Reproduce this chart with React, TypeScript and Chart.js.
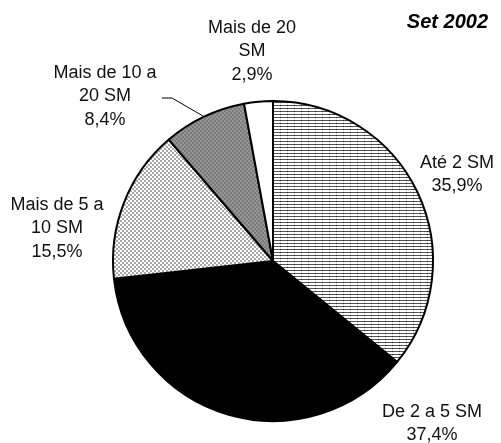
import React, { useEffect, useRef } from "react";
import { Chart, registerables } from "chart.js";

Chart.register(...registerables);

const categories = ["Até 2 SM", "De 2 a 5 SM", "Mais de 5 a 10 SM", "Mais de 10 a 20 SM", "Mais de 20 SM"];
const shares = [35.9, 37.4, 15.5, 8.4, 2.9];
const labelLines = [["Até 2 SM"], ["De 2 a 5 SM"], ["Mais de 5 a", "10 SM"], ["Mais de 10 a", "20 SM"], ["Mais de 20", "SM"]];
const titleText = "Set 2002";

// label placement (first-line centre, relative to pie centre)
const labelOffsets = [
  [184, -98],
  [159, 151],
  [-216, -56],
  [-168, -188],
  [-21, -233],
];
const leaderIndex = 3;
const leaderPoints = [
  [-101, -163],
  [-111, -163],
];

function makePattern(kind: string): CanvasPattern | string {
  const c = document.createElement("canvas");
  const ctx = c.getContext("2d")!;
  if (kind === "hlines") {
    c.width = 7;
    c.height = 3;
    ctx.fillStyle = "#ffffff";
    ctx.fillRect(0, 0, 7, 3);
    ctx.fillStyle = "#555555";
    ctx.fillRect(0, 0, 7, 1);
    ctx.fillStyle = "#222222";
    ctx.fillRect(0, 0, 1, 1);
    ctx.fillStyle = "#e6e6e6";
    ctx.fillRect(0, 1, 1, 2);
  } else if (kind === "dots") {
    c.width = 4;
    c.height = 4;
    ctx.fillStyle = "#ffffff";
    ctx.fillRect(0, 0, 4, 4);
    ctx.fillStyle = "#a8a8a8";
    ctx.fillRect(0, 0, 2, 2);
    ctx.fillRect(2, 2, 2, 2);
  } else if (kind === "gray") {
    c.width = 4;
    c.height = 4;
    ctx.fillStyle = "#7c7c7c";
    ctx.fillRect(0, 0, 4, 4);
    ctx.fillStyle = "#969696";
    ctx.fillRect(0, 0, 2, 2);
    ctx.fillRect(2, 2, 2, 2);
  } else {
    return kind;
  }
  return ctx.createPattern(c, "repeat") as CanvasPattern;
}

const fmt = (v: number) => v.toFixed(1).replace(".", ",") + "%";

const labelPlugin = {
  id: "sliceLabels",
  afterDraw(chart: any) {
    const ctx = chart.ctx as CanvasRenderingContext2D;
    const meta = chart.getDatasetMeta(0);
    const arc0 = meta.data[0];
    const cx = arc0.x;
    const cy = arc0.y;
    ctx.save();
    ctx.fillStyle = "#111";
    ctx.textAlign = "center";
    ctx.textBaseline = "middle";
    ctx.font = '18px "Liberation Sans", Arial, sans-serif';
    const lh = 23.5;
    shares.forEach((v, i) => {
      const lines = [...labelLines[i], fmt(v)];
      const [dx, dy] = labelOffsets[i];
      lines.forEach((t, k) => {
        ctx.fillText(t, cx + dx, cy + dy + k * lh);
      });
    });
    // leader line
    const arc = meta.data[leaderIndex];
    const mid = (arc.startAngle + arc.endAngle) / 2;
    ctx.strokeStyle = "#000";
    ctx.lineWidth = 1;
    ctx.beginPath();
    ctx.moveTo(cx + arc.outerRadius * Math.cos(mid), cy + arc.outerRadius * Math.sin(mid));
    leaderPoints.forEach(([px, py]) => ctx.lineTo(cx + px, cy + py));
    ctx.stroke();
    // title
    ctx.fillStyle = "#000";
    ctx.font = 'italic bold 20px "Liberation Sans", Arial, sans-serif';
    ctx.textAlign = "right";
    ctx.fillText(titleText, 488, 22);
    ctx.restore();
  },
};

export default function App() {
  const ref = useRef<HTMLCanvasElement>(null);
  useEffect(() => {
    document.body.style.margin = "0";
    const chart = new Chart(ref.current!, {
      type: "pie",
      data: {
        labels: categories,
        datasets: [
          {
            data: shares,
            backgroundColor: [
              makePattern("hlines"),
              "#000000",
              makePattern("dots"),
              makePattern("gray"),
              "#ffffff",
            ] as any,
            borderColor: "#000000",
            borderWidth: 2,
          },
        ],
      },
      options: {
        responsive: false,
        animation: false,
        layout: { padding: { left: 112, right: 67, top: 100, bottom: 21 } },
        plugins: {
          legend: { display: false },
          tooltip: { enabled: false },
          title: { display: false },
        },
      },
      plugins: [labelPlugin],
    });
    return () => chart.destroy();
  }, []);
  return (
    <div style={{ width: 501, height: 443, background: "#fff" }}>
      <canvas ref={ref} width={501} height={443} />
    </div>
  );
}
